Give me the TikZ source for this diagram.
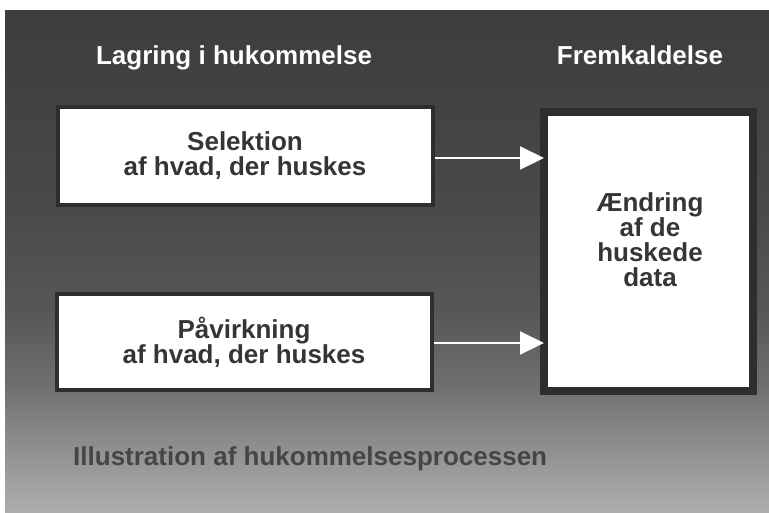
\documentclass[tikz,border=0pt]{standalone}
\usepackage{fontspec}
\setmainfont{Liberation Sans}
\usepackage{xcolor}
\usetikzlibrary{arrows.meta, positioning, calc}

\definecolor{boxtext}{HTML}{353535}
\definecolor{boxedge}{HTML}{2E2E30}
\definecolor{captext}{HTML}{454545}
\pgfdeclareverticalshading{memshade}{100bp}{%
  color(0bp)=(black!31); color(25bp)=(black!32); color(31bp)=(black!43);
  color(38bp)=(black!57); color(45bp)=(black!66); color(55bp)=(black!71);
  color(66bp)=(black!74); color(75bp)=(black!76); color(100bp)=(black!76)}

\begin{document}
\begin{tikzpicture}[x=1pt, y=-1pt,
    every node/.style={font=\bfseries\fontsize{26}{25}\selectfont, align=center},
    membox/.style={draw=boxedge, fill=white, text=boxtext, line width=4pt, inner sep=0pt},
    memarrow/.style={white, line width=2pt, -{Triangle[width=23pt, length=24pt]}}]
      \useasboundingbox (0, 0) rectangle (769, 512);
      \shade[shading=memshade] (5, 10) rectangle (769, 512);

      % headings
      \node[white, anchor=base] (lagring) at (234, 64) {Lagring i hukommelse};
      \node[white, anchor=base] (fremkald) at (640, 64) {Fremkaldelse};

      % boxes
      \node[membox, minimum width=375pt, minimum height=98pt] (selektion) at (245, 156) {Selektion\\af hvad, der huskes};
      \node[membox, minimum width=375pt, minimum height=96pt] (paavirk) at (244, 342) {P\aa virkning\\af hvad, der huskes};
      \node[membox, line width=8pt, minimum width=209pt, minimum height=279pt] (aendring) at (648.5, 251.5) {};
      \node[text=boxtext] (aendtext) at (650, 240) {\AE ndring\\af de\\huskede\\data};

      \draw[memarrow] (selektion.east |- 0, 158) -- ([xshift=4pt]aendring.west |- 0, 158);
      \draw[memarrow] (paavirk.east |- 0, 343) -- ([xshift=4pt]aendring.west |- 0, 343);

      \node[text=captext, anchor=base west, inner sep=0pt] (caption) at (73, 465) {Illustration af hukommelsesprocessen};
    \end{tikzpicture}
\end{document}
